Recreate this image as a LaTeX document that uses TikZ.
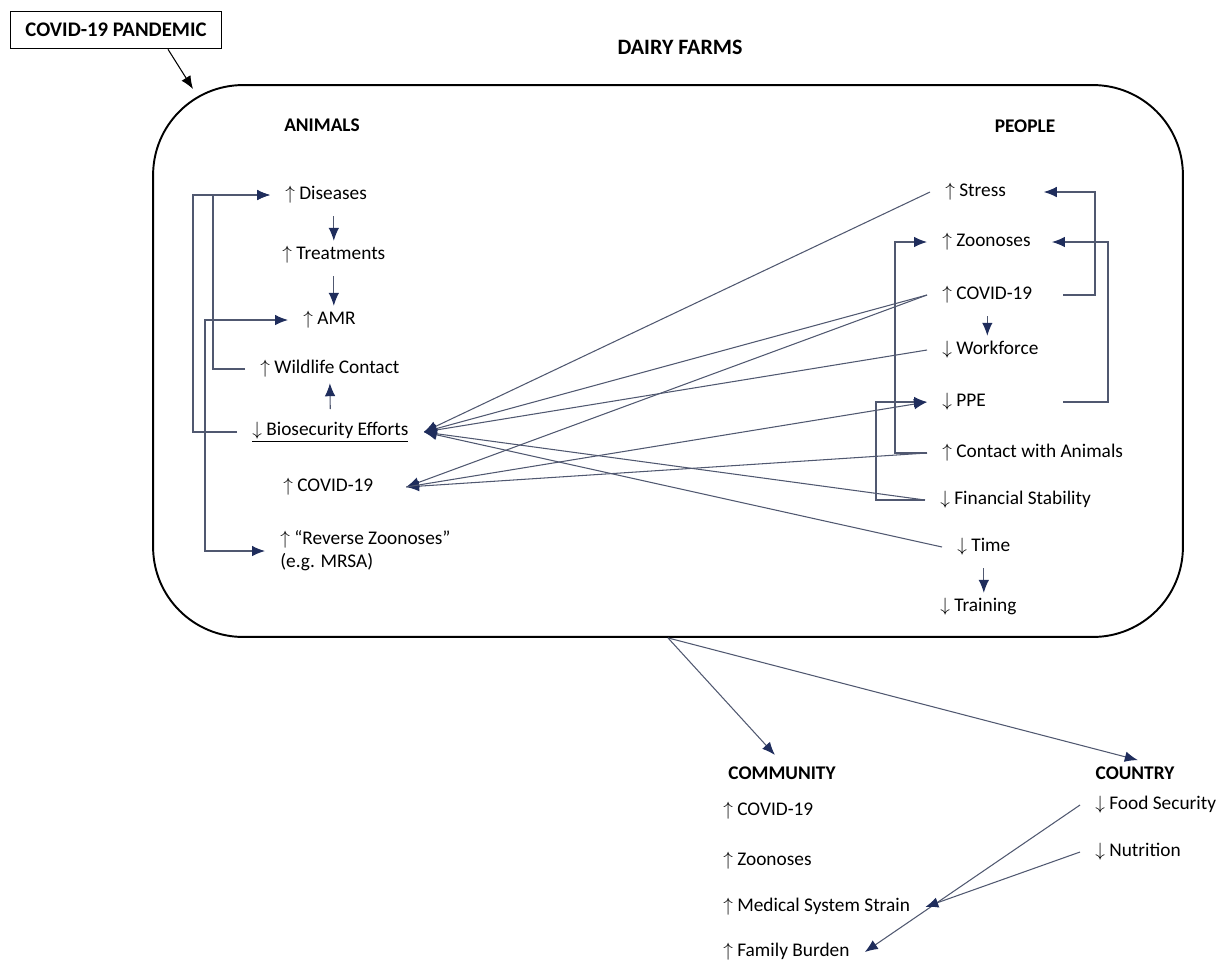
\documentclass[tikz,border=0pt]{standalone}
\usepackage{fontspec}
\setmainfont{Carlito}
\usetikzlibrary{arrows.meta}
\definecolor{navy}{RGB}{31,45,92}
\definecolor{linegray}{RGB}{80,88,112}
\begin{document}
\begin{tikzpicture}[x=0.02cm, y=-0.02cm,
	item/.style={anchor=west, inner xsep=0.3cm, inner ysep=3pt, font=\fontsize{11}{13}\selectfont},
	head/.style={inner sep=2pt, font=\fontsize{11}{13}\selectfont\bfseries},
	arr/.style={draw=linegray, line width=0.6pt, -{Latex[length=2.6mm, width=2.1mm, color=navy]}},
	blk/.style={draw=black, line width=0.6pt, -{Latex[length=2.6mm, width=2.1mm]}}]
	\useasboundingbox (0,0) rectangle (1229,964);
	\node[draw, line width=0.9pt, minimum width=4.22cm, minimum height=0.74cm, head, font=\fontsize{11.8}{13}\selectfont\bfseries] (pand) at (116,30) {COVID-19 PANDEMIC};
	\node[draw, line width=1.1pt, rounded corners=1.8cm, minimum width=20.6cm, minimum height=11.04cm] (farm) at (668,361) {};
	\node[head, font=\fontsize{12.5}{14}\selectfont\bfseries] (dairy) at (680,47) {DAIRY FARMS};
	\node[head] (animals) at (322,125) {ANIMALS};
	\node[head] (people) at (1025,126) {PEOPLE};
	\node[item] (dis) at (270,195) {$\uparrow$ Diseases};
	\node[item] (treat) at (267,255) {$\uparrow$ Treatments};
	\node[item] (amr) at (288,320) {$\uparrow$ AMR};
	\node[item] (wild) at (245,369) {$\uparrow$ Wildlife Contact};
	\node[item] (bio) at (237,432) {\underline{$\downarrow$ Biosecurity Efforts}};
	\node[item] (cova) at (268,487) {$\uparrow$ COVID-19};
	\node[item, align=left] (rev) at (265,551) {$\uparrow$ ``Reverse Zoonoses''\\(e.g. MRSA)};
	\node[item] (stress) at (930,192) {$\uparrow$ Stress};
	\node[item] (zoop) at (927,242) {$\uparrow$ Zoonoses};
	\node[item] (covp) at (927,295) {$\uparrow$ COVID-19};
	\node[item] (work) at (927,350) {$\downarrow$ Workforce};
	\node[item] (ppe) at (927,402) {$\downarrow$ PPE};
	\node[item] (contact) at (927,453) {$\uparrow$ Contact with Animals};
	\node[item] (fin) at (925,500) {$\downarrow$ Financial Stability};
	\node[item] (time) at (942,547) {$\downarrow$ Time};
	\node[item] (train) at (925,607) {$\downarrow$ Training};
	\node[head] (comm) at (782,773) {COMMUNITY};
	\node[head] (ctry) at (1135,773) {COUNTRY};
	\node[item] (cmcov) at (708,811) {$\uparrow$ COVID-19};
	\node[item] (cmzoo) at (708,861) {$\uparrow$ Zoonoses};
	\node[item] (med) at (708,907) {$\uparrow$ Medical System Strain};
	\node[item] (fam) at (708,952) {$\uparrow$ Family Burden};
	\node[item] (food) at (1080,805) {$\downarrow$ Food Security};
	\node[item] (nutr) at (1080,852) {$\downarrow$ Nutrition};
	\coordinate (pin) at (193,89);
	\coordinate (la) at (193,0);
	\coordinate (lb) at (205,0);
	\coordinate (lc) at (213,0);
	\coordinate (rs) at (1063,0);
	\coordinate (ra) at (1095,0);
	\coordinate (rb) at (1108,0);
	\coordinate (lx) at (895,0);
	\coordinate (ly) at (876,0);
	\draw[blk] ([xshift=1.04cm]pand.south) -- (pin);
	\draw[arr, shorten <=4pt] (treat.north |- dis.south) -- (treat.north);
	\draw[arr, shorten <=4pt] (treat.south) -- (treat.south |- amr.north);
	\draw[arr, shorten <=4pt] (bio.north) -- (wild.south);
	\draw[arr] (bio.west) -| (la |- dis) -- (dis.west);
	\draw[arr] (wild.west) -| (lc |- dis) -- (dis.west);
	\draw[arr] (bio.west -| lb) |- (amr.west);
	\draw[arr] (bio.west -| lb) |- (rev.west);
	\draw[arr] (covp -| rs) -| (ra |- stress) -- ([xshift=0.45cm]stress.east);
	\draw[arr] (ppe -| rs) -| (rb |- zoop) -- ([xshift=0.12cm]zoop.east);
	\draw[arr] (contact.west) -| (lx |- zoop) -- (zoop.west);
	\draw[arr] (fin.west) -| (ly |- ppe) -- (ppe.west);
	\draw[arr, shorten <=4pt] (covp.south) -- (covp.south |- work.north);
	\draw[arr, shorten <=4pt] (time.south) -- (time.south |- train.north);
	\draw[arr] (stress.west) -- (bio.east);
	\draw[arr] (covp.west) -- (bio.east);
	\draw[arr] (work.west) -- (bio.east);
	\draw[arr] (fin.west) -- (bio.east);
	\draw[arr] (time.west) -- (bio.east);
	\draw[arr] (covp.west) -- ([xshift=0.35cm]cova.east);
	\draw[arr] (contact.west) -- ([xshift=0.35cm]cova.east);
	\draw[arr] ([xshift=0.35cm]cova.east) -- (ppe.west);
	\draw[arr, shorten >=6pt] (farm.south) -- (comm.north);
	\draw[arr, shorten >=6pt] (farm.south) -- ([xshift=0.26cm]ctry.north);
	\draw[arr] (food.west) -- (fam.east);
	\draw[arr] (nutr.west) -- (med.east);
\end{tikzpicture}
\end{document}
